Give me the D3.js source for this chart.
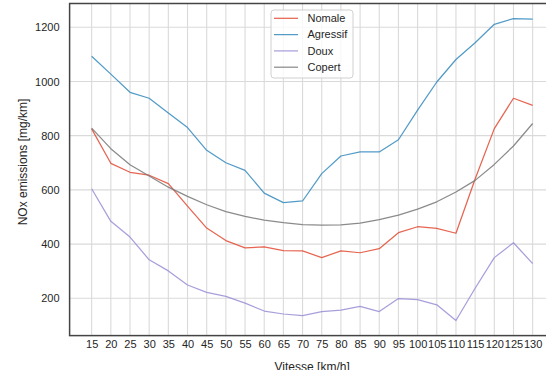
<!DOCTYPE html>
<html>
<head>
<meta charset="utf-8">
<script src="https://cdn.jsdelivr.net/npm/d3@7"></script>
<style>
  html, body { margin: 0; padding: 0; background: #fff; }
  svg { display: block; }
  text { font-family: "Liberation Sans", Arial, sans-serif; fill: #262626; }
</style>
</head>
<body>
<svg id="chart" width="546" height="370"></svg>
<script>
// Speeds (km/h)
const vitesse = [15, 20, 25, 30, 35, 40, 45, 50, 55, 60, 65, 70, 75, 80, 85, 90, 95, 100, 105, 110, 115, 120, 125, 130];

// NOx emissions (mg/km) per driving style
const nomale   = [825, 698, 665, 654, 623, 540, 459, 413, 386, 390, 376, 375, 350, 375, 368, 383, 442, 464, 458, 440, 640, 826, 938, 912];
const agressif = [1093, 1027, 960, 938, 884, 830, 746, 700, 672, 588, 553, 559, 660, 725, 740, 740, 785, 894, 998, 1081, 1143, 1211, 1232, 1230];
const doux     = [604, 484, 426, 342, 301, 249, 222, 207, 182, 153, 142, 136, 151, 156, 170, 151, 199, 195, 176, 118, 237, 350, 405, 328];
const copert   = [828, 752, 693, 651, 610, 576, 545, 520, 502, 488, 479, 472, 470, 471, 477, 490, 507, 529, 556, 592, 635, 694, 762, 845];

const seriesNames  = ["Nomale", "Agressif", "Doux", "Copert"];
const seriesValues = [nomale, agressif, doux, copert];
const seriesColors = ["#E24A33", "#348ABD", "#988ED5", "#777777"];

const yTicks = [200, 400, 600, 800, 1000, 1200];
const xLabel = "Vitesse [km/h]";
const yLabel = "NOx emissions [mg/km]";

const svg = d3.select("#chart");
const frame = { left: 69.6, right: 554.7, top: 3.5, bottom: 335.6 };

// 5% padding around the data extent on both axes
function padded(extent) {
  const r = extent[1] - extent[0];
  return [extent[0] - 0.05 * r, extent[1] + 0.05 * r];
}
const x = d3.scaleLinear()
  .domain(padded(d3.extent(vitesse)))
  .range([frame.left, frame.right]);
const allY = seriesValues.flat();
const y = d3.scaleLinear()
  .domain(padded(d3.extent(allY)))
  .range([frame.bottom, frame.top]);

// Grid
const grid = svg.append("g").attr("stroke", "#dadada").attr("stroke-width", 1.1);
grid.selectAll("line.v").data(vitesse).join("line")
  .attr("x1", d => x(d)).attr("x2", d => x(d))
  .attr("y1", frame.top).attr("y2", frame.bottom);
grid.selectAll("line.h").data(yTicks).join("line")
  .attr("x1", frame.left).attr("x2", frame.right)
  .attr("y1", d => y(d)).attr("y2", d => y(d));

// Axes (tick labels only)
const xAxis = d3.axisBottom(x).tickValues(vitesse).tickSize(0).tickPadding(5).tickFormat(d3.format("d"));
const gx = svg.append("g").attr("transform", `translate(0,${frame.bottom})`).call(xAxis);
gx.select(".domain").remove();
gx.selectAll("text").attr("font-size", 11).attr("font-family", "Liberation Sans, Arial, sans-serif").attr("fill", "#262626");

const yAxis = d3.axisLeft(y).tickValues(yTicks).tickSize(0).tickPadding(10).tickFormat(d3.format("d"));
const gy = svg.append("g").attr("transform", `translate(${frame.left},0)`).call(yAxis);
gy.select(".domain").remove();
gy.selectAll("text").attr("font-size", 11).attr("font-family", "Liberation Sans, Arial, sans-serif").attr("fill", "#262626");

// Series lines
const line = d3.line().x((d, i) => x(vitesse[i])).y(d => y(d));
svg.append("g").selectAll("path").data(seriesValues).join("path")
  .attr("d", d => line(d))
  .attr("fill", "none")
  .attr("stroke", (d, i) => seriesColors[i])
  .attr("stroke-opacity", 0.85)
  .attr("stroke-width", 1.25)
  .attr("stroke-linejoin", "round");

// Frame
svg.append("rect")
  .attr("x", frame.left).attr("y", frame.top)
  .attr("width", frame.right - frame.left).attr("height", frame.bottom - frame.top)
  .attr("fill", "none").attr("stroke", "#444").attr("stroke-width", 1.5);

// Axis titles
svg.append("text")
  .attr("x", (frame.left + frame.right) / 2).attr("y", 370.5)
  .attr("text-anchor", "middle").attr("font-size", 12)
  .text(xLabel);
svg.append("text")
  .attr("transform", "translate(27,162) rotate(-90)")
  .attr("text-anchor", "middle").attr("font-size", 12)
  .text(yLabel);

// Legend
const legend = svg.append("g").attr("transform", "translate(271,10)");
legend.append("rect")
  .attr("width", 82).attr("height", 68).attr("rx", 3)
  .attr("fill", "#fff").attr("fill-opacity", 0.8)
  .attr("stroke", "#d0d0d0").attr("stroke-width", 1);
const rows = legend.selectAll("g").data(seriesNames).join("g")
  .attr("transform", (d, i) => `translate(0,${8.3 + i * 16.3})`);
rows.append("line")
  .attr("x1", 3).attr("x2", 27)
  .attr("stroke", (d, i) => seriesColors[i])
  .attr("stroke-opacity", 0.85)
  .attr("stroke-width", 1.25);
rows.append("text")
  .attr("x", 36.5).attr("dy", "0.35em")
  .attr("font-size", 11)
  .text(d => d);
</script>
</body>
</html>
